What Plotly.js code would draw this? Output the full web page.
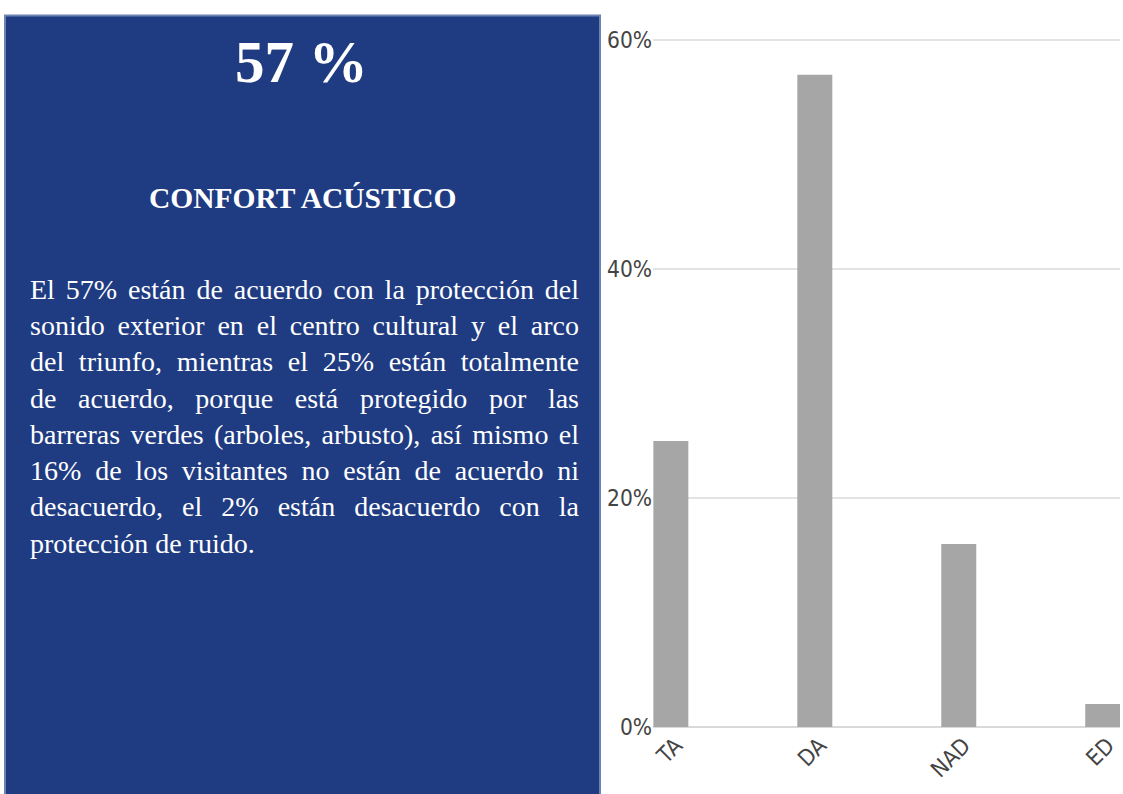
<!DOCTYPE html>
<html>
<head>
<meta charset="utf-8">
<script src="https://cdn.plot.ly/plotly-3.0.1.min.js"></script>
<style>html,body{margin:0;padding:0;background:#fff;}#chart{width:1123px;height:794px;}</style>
</head>
<body>
<div id="chart"></div>
<script>
// ---- data ----
const categories = ["TA", "DA", "NAD", "ED"];
const percentages = [25, 57, 16, 2];
const yTickValues = [0, 20, 40, 60];
const yTickLabels = ["0%", "20%", "40%", "60%"];
const headline = "57 %";
const panelTitle = "CONFORT ACÚSTICO";
const bodyLines = [
  "El 57% están de acuerdo con la protección del",
  "sonido exterior en el centro cultural y el arco",
  "del triunfo, mientras el 25% están totalmente",
  "de acuerdo, porque está protegido por las",
  "barreras verdes (arboles, arbusto), así mismo el",
  "16% de los visitantes no están de acuerdo ni",
  "desacuerdo, el 2% están desacuerdo con la",
  "protección de ruido."
];

// ---- layout geometry (pixels) ----
const W = 1123, H = 794;
const T = 28.6, B = 794 - 727;
const plotH = H - T - B;
const px = x => x / W;
const py = y => (727 - y) / plotH;

const serif = "Liberation Serif, Times New Roman, serif";
const tickFont = {family: "DejaVu Sans Condensed, DejaVu Sans, sans-serif", stretch: "condensed", size: 22.5, color: "#444444"};

const annotations = [
  {text: "<b>" + headline + "</b>", x: px(301), y: py(62), xref: "paper", yref: "paper",
   xanchor: "center", yanchor: "middle", showarrow: false, font: {family: serif, size: 59, color: "#ffffff"}},
  {text: "<b>" + panelTitle + "</b>", x: px(302), y: py(198), xref: "paper", yref: "paper",
   xanchor: "center", yanchor: "middle", showarrow: false, font: {family: serif, size: 29.5, color: "#ffffff"}}
];
bodyLines.forEach((line, i) => {
  annotations.push({text: line, x: px(28), y: py(289 + i * 36.3), xref: "paper", yref: "paper",
    xanchor: "left", yanchor: "middle", align: "left", showarrow: false,
    font: {family: serif, size: 28, color: "#ffffff"}});
});

const data = [{
  type: "bar",
  x: categories,
  y: percentages,
  marker: {color: "#a6a6a6"},
  hoverinfo: "skip"
}];

const layout = {
  width: W, height: H,
  margin: {l: 0, r: 0, t: T, b: B, pad: 0},
  paper_bgcolor: "#ffffff",
  plot_bgcolor: "rgba(0,0,0,0)",
  showlegend: false,
  bargap: 0.757,
  xaxis: {
    domain: [px(653), px(1120)],
    range: [-0.124, 3.12],
    type: "category",
    showgrid: false, zeroline: false, showline: false,
    ticks: "", tickangle: -45, tickfont: tickFont, ticklabelshift: 5
  },
  yaxis: {
    range: [0, 61],
    tickmode: "array",
    tickvals: yTickValues,
    ticktext: yTickLabels,
    showgrid: true, gridcolor: "#e3e3e3", gridwidth: 2,
    zeroline: true, zerolinecolor: "#d9d9d9", zerolinewidth: 2,
    showline: false, ticks: "", tickfont: tickFont
  },
  shapes: [
    {type: "rect", xref: "paper", yref: "paper", layer: "below",
     x0: px(5), x1: px(600), y0: py(800), y1: py(15),
     fillcolor: "#1f3c82", line: {color: "#6d84b3", width: 2}}
  ],
  annotations: annotations
};

Plotly.newPlot("chart", data, layout, {displayModeBar: false, staticPlot: true}).then(() => {
  // justify paragraph lines (all but last) to the panel text width
  const targetW = 577 - 28;
  const texts = document.querySelectorAll("#chart .annotation-text");
  texts.forEach(t => {
    const s = t.textContent;
    const idx = bodyLines.indexOf(s);
    if (idx < 0 || idx === bodyLines.length - 1) return;
    const spaces = (s.match(/ /g) || []).length;
    const w = t.getComputedTextLength();
    if (spaces > 0 && w < targetW) {
      t.style.wordSpacing = ((targetW - w) / spaces) + "px";
    }
  });
});
</script>
</body>
</html>
